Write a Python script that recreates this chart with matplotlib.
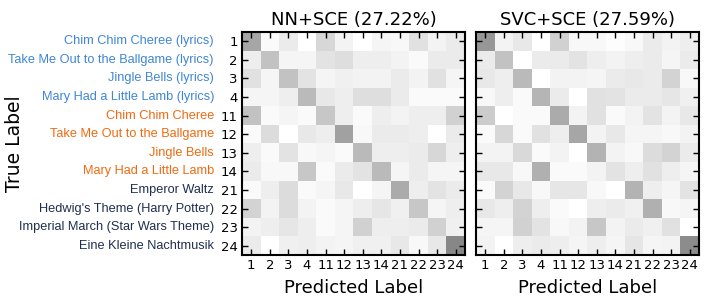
import numpy as np
import matplotlib
matplotlib.use("Agg")
import matplotlib.pyplot as plt
from matplotlib.transforms import blended_transform_factory

codes = ["1", "2", "3", "4", "11", "12", "13", "14", "21", "22", "23", "24"]
names = ["Chim Chim Cheree (lyrics)", "Take Me Out to the Ballgame (lyrics)",
         "Jingle Bells (lyrics)", "Mary Had a Little Lamb (lyrics)",
         "Chim Chim Cheree", "Take Me Out to the Ballgame", "Jingle Bells",
         "Mary Had a Little Lamb", "Emperor Waltz", "Hedwig's Theme (Harry Potter)",
         "Imperial March (Star Wars Theme)", "Eine Kleine Nachtmusik"]
name_groups = ["lyrics"] * 4 + ["instrumental"] * 4 + ["classical"] * 4
group_colors = {"lyrics": "#3f86d6", "instrumental": "#f06a10", "classical": "#1f2f4f"}

titles = ["NN+SCE (27.22%)", "SVC+SCE (27.59%)"]

nn_sce = [
    [35, 2, 8, 0, 16, 5, 0, 4, 3, 12, 5, 8],
    [7, 24, 4, 4, 11, 13, 7, 7, 5, 2, 8, 8],
    [12, 4, 24, 11, 4, 6, 5, 5, 8, 5, 12, 4],
    [4, 4, 7, 27, 9, 7, 13, 13, 8, 2, 2, 2],
    [24, 2, 4, 2, 22, 7, 2, 7, 5, 7, 7, 18],
    [2, 14, 0, 9, 7, 37, 3, 8, 8, 7, 0, 8],
    [7, 2, 11, 3, 4, 2, 27, 7, 7, 8, 16, 7],
    [8, 3, 3, 22, 2, 8, 11, 27, 4, 8, 4, 4],
    [2, 7, 14, 2, 4, 9, 0, 4, 33, 7, 11, 8],
    [17, 5, 14, 5, 2, 4, 7, 10, 6, 22, 4, 7],
    [5, 7, 10, 7, 2, 4, 18, 7, 7, 8, 18, 6],
    [8, 0, 6, 7, 5, 4, 6, 6, 9, 3, 9, 47],
]
svc_sce = [
    [41, 5, 9, 0, 18, 3, 3, 1, 3, 8, 5, 7],
    [8, 24, 0, 8, 8, 11, 7, 5, 7, 8, 4, 8],
    [9, 7, 27, 0, 5, 5, 4, 8, 9, 8, 17, 3],
    [3, 7, 2, 29, 8, 0, 12, 11, 8, 8, 10, 6],
    [20, 0, 2, 2, 33, 5, 12, 2, 5, 11, 5, 9],
    [2, 16, 2, 12, 7, 35, 5, 9, 4, 4, 3, 5],
    [5, 5, 15, 2, 5, 0, 30, 5, 3, 14, 17, 8],
    [9, 9, 3, 31, 2, 2, 5, 11, 7, 12, 7, 4],
    [2, 17, 9, 3, 10, 10, 3, 0, 30, 7, 4, 11],
    [9, 7, 17, 7, 2, 0, 7, 8, 6, 31, 3, 4],
    [4, 4, 18, 11, 3, 5, 22, 5, 8, 6, 12, 0],
    [5, 0, 7, 8, 7, 4, 7, 4, 10, 4, 5, 45],
]

fig = plt.figure(figsize=(7.1, 3.08), dpi=100)
W, H = 710, 308
ax_specs = [(242, 32, 223, 223), (476, 32, 223, 223)]
mats = [nn_sce, svc_sce]

for k, ((x0, y0, w, h), mat, title) in enumerate(zip(ax_specs, mats, titles)):
    ax = fig.add_axes([x0 / W, (H - y0 - h) / H, w / W, h / H])
    ax.imshow(np.array(mat), cmap="gray_r", vmin=0, vmax=100,
              interpolation="nearest", aspect="auto")
    n = len(codes)
    ax.set_xticks(range(n))
    ax.set_yticks(range(n))
    ax.set_xticklabels(codes, fontsize=9.5)
    if k == 0:
        ax.set_yticklabels(codes, fontsize=9.5)
    else:
        ax.set_yticklabels([])
    ax.tick_params(direction="in", length=4, width=1, top=True, right=True,
                   pad=3, colors="black")
    for s in ax.spines.values():
        s.set_linewidth(1.5)
    ax.set_title(title, fontsize=13, pad=5)
    ax.set_xlabel("Predicted Label", fontsize=13, labelpad=5)
    if k == 0:
        tr = blended_transform_factory(ax.transAxes, ax.transData)
        for i, (nm, g) in enumerate(zip(names, name_groups)):
            ax.annotate(nm, xy=(0, i), xycoords=tr, xytext=(-28, 0),
                        textcoords="offset pixels", ha="right", va="center",
                        fontsize=9.2, family="Liberation Sans",
                        color=group_colors[g], annotation_clip=False)

fig.text(15 / W, 1 - 143.5 / H, "True Label", rotation=90, fontsize=13.5,
         ha="center", va="center")

fig.savefig("out.png", dpi=100)
